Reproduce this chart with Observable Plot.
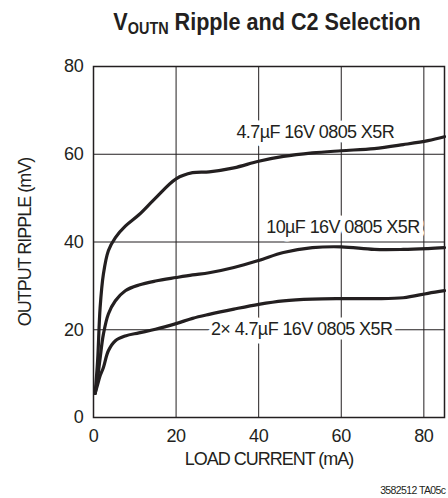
<!DOCTYPE html>
<html><head><meta charset="utf-8">
<script src="https://cdn.jsdelivr.net/npm/d3@7"></script>
<script src="https://cdn.jsdelivr.net/npm/@observablehq/plot@0.6"></script>
<style>
body{margin:0;background:#fff;}
#wrap{position:relative;width:448px;height:498px;}
#title{position:absolute;left:0;top:7px;width:534px;text-align:center;font-family:"Liberation Sans","Arial",sans-serif;font-weight:bold;font-size:24px;line-height:30px;color:#231f20;white-space:nowrap;transform:scaleX(0.9);transform-origin:267px 50%;}
#title .sub{font-size:16px;position:relative;top:4px;}
#chart{position:absolute;left:0;top:50px;}
</style></head><body>
<div id="wrap">
<div id="title">V<span class="sub">OUTN</span> Ripple and C2 Selection</div>
<div id="chart"></div>
</div>
<script>
const FONT = '"Liberation Sans","Arial",sans-serif';
const INK = "#231f20";

// Load current (mA) sample points shared by all series
const loadCurrent = [0.4, 1, 1.6, 2.4, 3.6, 5.3, 7.7, 11, 15, 20, 24, 28, 34, 40, 46, 53, 60, 68, 75, 81, 85];
// Output ripple (mV) per capacitor selection
const ripple47 = [5.5, 13, 25, 32.7, 38, 41, 43.6, 46.2, 50.0, 54.4, 55.8, 56.0, 56.9, 58.4, 59.5, 60.3, 60.8, 61.3, 62.2, 63.1, 64.0];
const ripple10 = [5.5, 9, 13.5, 19, 23.6, 26.6, 28.9, 30.2, 31.1, 31.9, 32.5, 33.0, 34.2, 35.8, 37.6, 38.7, 38.9, 38.3, 38.3, 38.5, 38.7];
const ripple2x47 = [5.5, 7.5, 9.5, 11.4, 15.2, 17.5, 18.6, 19.3, 20.1, 21.4, 22.6, 23.5, 24.7, 25.8, 26.6, 27.0, 27.1, 27.1, 27.3, 28.3, 28.9];

const seriesNames = ["4.7µF 16V 0805 X5R", "10µF 16V 0805 X5R", "2× 4.7µF 16V 0805 X5R"];
const seriesValues = [ripple47, ripple10, ripple2x47];
// Label anchor points (data coordinates)
const labelX = [53.7, 60.4, 50.4];
const labelY = [65.1, 43.3, 20.2];

const xTicks = [0, 20, 40, 60, 80];
const yTicks = [0, 20, 40, 60, 80];
const xGrid = [20, 40, 60, 80];
const yGrid = [20, 40, 60];
const caption = "3582512 TA05c";

const rows = seriesNames.flatMap((name, i) =>
  loadCurrent.map((x, j) => ({series: name, x, y: seriesValues[i][j]})));
const labels = seriesNames.map((name, i) => ({text: name, x: labelX[i], y: labelY[i]}));

const chart = Plot.plot({
  width: 448, height: 448,
  marginTop: 16, marginBottom: 81, marginLeft: 93, marginRight: 4,
  style: {fontFamily: FONT, fontSize: "18px", color: INK, background: "#fff", overflow: "visible"},
  x: {domain: [0, 85]},
  y: {domain: [0, 80]},
  marks: [
    Plot.ruleX(xGrid, {stroke: INK, strokeWidth: 1}),
    Plot.ruleY(yGrid, {stroke: INK, strokeWidth: 1}),
    Plot.text(labels, {x: "x", y: "y", text: "text", fill: INK, stroke: "white", strokeWidth: 9, fontSize: 18}),
    Plot.line(rows, {x: "x", y: "y", z: "series", stroke: INK, strokeWidth: 3.2, curve: "catmull-rom"}),
    Plot.frame({stroke: INK, strokeWidth: 1.5}),
    Plot.axisX({ticks: xTicks, tickSize: 0, tickPadding: 12, fontSize: 18, label: "LOAD CURRENT (mA)", labelAnchor: "center", labelOffset: 47, labelArrow: "none"}),
    Plot.axisY({ticks: yTicks, tickSize: 0, tickPadding: 10, fontSize: 18, label: "OUTPUT RIPPLE (mV)", labelAnchor: "center", labelOffset: 75, labelArrow: "none"}),
    Plot.text([caption], {frameAnchor: "bottom-right", dx: 1, dy: 73, textAnchor: "end", lineAnchor: "middle", fontSize: 10.5, fill: INK})
  ]
});
// condensed look: tighten letter spacing of the text
d3.select(chart).selectAll("text").style("letter-spacing", "-0.6px");
d3.select(chart).selectAll('[aria-label="x-axis label"] text, [aria-label="y-axis label"] text').style("letter-spacing", "-1px");
d3.select(chart).selectAll('[aria-label="x-axis tick label"] text, [aria-label="y-axis tick label"] text').style("letter-spacing", "-0.3px");
document.getElementById("chart").appendChild(chart);
</script>
</body></html>
